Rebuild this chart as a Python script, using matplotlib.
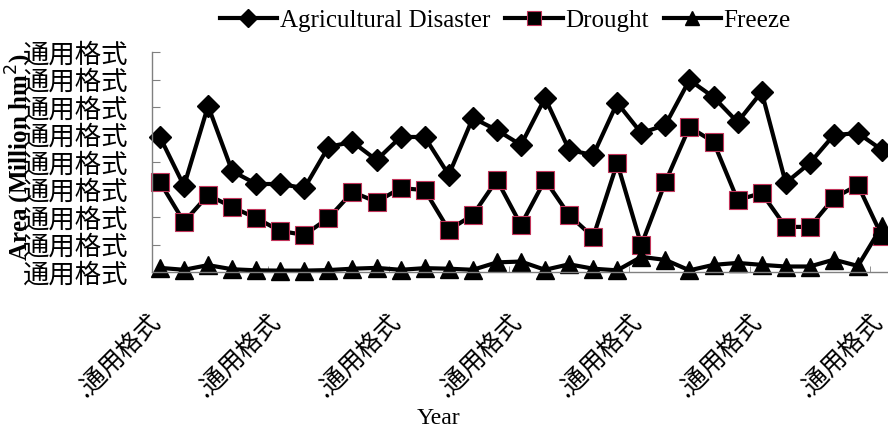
import numpy as np
import matplotlib.pyplot as plt
from matplotlib.transforms import ScaledTranslation

plt.rcParams['font.family'] = ['Liberation Serif', 'DejaVu Serif']

# values (million hm2), 31 years
agri = [49.1, 31.3, 60.4, 36.7, 32.0, 32.0, 30.5, 45.5, 47.3, 40.7,
        49.1, 49.1, 35.3, 56.0, 51.6, 46.2, 63.3, 44.4, 42.5, 61.5,
        50.5, 53.5, 69.8, 63.6, 54.5, 65.5, 32.4, 39.6, 49.8, 50.5, 44.4]
drought = [32.7, 18.2, 28.0, 23.6, 19.6, 14.9, 13.5, 19.6, 29.1, 25.5,
           30.5, 29.8, 15.3, 20.7, 33.5, 17.1, 33.5, 20.7, 12.7, 39.6,
           9.8, 32.7, 52.7, 47.3, 26.2, 28.7, 16.4, 16.4, 26.9, 31.6, 13.0]
freeze = [1.5, 0.8, 2.5, 1.0, 0.6, 0.5, 0.5, 0.7, 1.2, 1.5,
          0.8, 1.4, 1.2, 0.8, 3.5, 3.8, 0.8, 2.8, 1.2, 0.6,
          5.5, 4.4, 0.6, 2.6, 3.3, 2.6, 2.0, 2.0, 4.5, 2.2, 16.7]
x = np.arange(len(agri))

yticks = [0, 10, 20, 30, 40, 50, 60, 70, 80]
ylabels = ['通用格式'] * len(yticks)
xticks = [0, 5, 10, 15, 20, 25, 30]
xlabels = ['.通用格式'] * len(xticks)

fig = plt.figure(figsize=(8.88, 4.32), dpi=100)
ax = fig.add_axes([152/888, 1-272/432, 1-152/888, 220/432])

ax.plot(x, agri, color='black', lw=3, marker='D', ms=11, mfc='black', mec='black',
        label='Agricultural Disaster', clip_on=False)
ax.plot(x, drought, color='black', lw=3, marker='s', ms=13, mfc='black', mec='#c2345a',
        mew=0.8, label='Drought', clip_on=False)
ax.plot(x, freeze, color='black', lw=3, marker='^', ms=13, mfc='black', mec='black',
        label='Freeze', clip_on=False)

ax.set_xlim(-0.33, 30.25)
ax.set_ylim(0, 80)

for s in ['top', 'right']:
    ax.spines[s].set_visible(False)
for s in ['left', 'bottom']:
    ax.spines[s].set_color('#808080')
    ax.spines[s].set_linewidth(1)

ax.set_yticks(yticks)
ax.set_yticklabels(ylabels, family=['Noto Sans CJK SC', 'DejaVu Sans'], fontsize=19)
ax.tick_params(axis='y', direction='in', length=6, color='#808080', pad=17)

ax.set_xticks(xticks)
ax.set_xticklabels(xlabels, family=['Noto Sans CJK SC', 'DejaVu Sans'], fontsize=18,
                   rotation=45, ha='right', va='top')
ax.tick_params(axis='x', length=0, pad=26)
off = ScaledTranslation(5/100, 0, fig.dpi_scale_trans)
for lab in ax.get_xticklabels():
    lab.set_transform(lab.get_transform() + off)
ax.set_xticks(np.arange(4.5, 30, 5), minor=True)
ax.tick_params(axis='x', which='minor', direction='in', length=4, color='#808080')

fig.legend(loc='center', bbox_to_anchor=(0.569, 0.952), ncol=3, frameon=False,
           fontsize=18, handlelength=2.3, handletextpad=0.1, columnspacing=0.6,
           markerscale=0.8)

fig.text(20/888, 1-157/432, 'Area (Million hm$^2$)', rotation=90, fontsize=18,
         fontweight='bold', ha='center', va='center')
fig.text(438/888, 1-419/432, 'Year', fontsize=17, ha='center', va='center')

plt.savefig('out.png', dpi=100)
